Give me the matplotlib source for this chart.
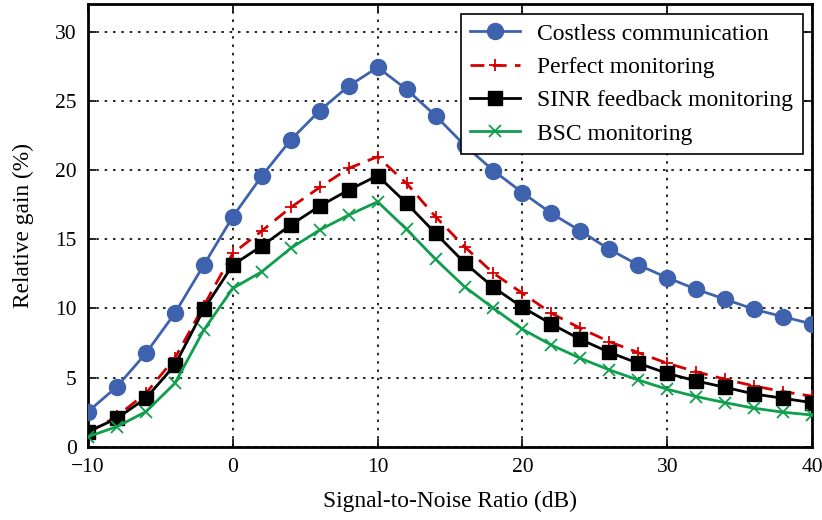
import numpy as np
import matplotlib
matplotlib.use('Agg')
from matplotlib import pyplot as plt

snr = list(range(-10, 41, 2))

costless = [2.53, 4.34, 6.75, 9.65, 13.14, 16.63, 19.57, 22.18, 24.3, 26.08,
            27.43, 25.84, 23.93, 21.8, 19.96, 18.37, 16.87, 15.6, 14.27, 13.14,
            12.22, 11.38, 10.66, 9.93, 9.4, 8.87]
perfect = [1.0, 2.2, 3.86, 6.4, 10.2, 13.98, 15.6, 17.3, 18.75, 20.13,
           20.97, 19.04, 16.63, 14.46, 12.54, 11.09, 9.65, 8.56, 7.59, 6.8,
           6.03, 5.42, 4.87, 4.39, 3.98, 3.65]
sinr = [1.08, 2.05, 3.5, 5.9, 9.93, 13.14, 14.51, 16.03, 17.4, 18.56,
        19.6, 17.6, 15.43, 13.3, 11.52, 10.08, 8.87, 7.76, 6.82, 6.03,
        5.3, 4.75, 4.29, 3.81, 3.5, 3.18]
bsc = [0.72, 1.45, 2.53, 4.58, 8.44, 11.45, 12.65, 14.35, 15.67, 16.75,
       17.71, 15.72, 13.55, 11.57, 10.01, 8.49, 7.35, 6.39, 5.55, 4.82,
       4.15, 3.62, 3.18, 2.78, 2.49, 2.29]

labels = ['Costless communication', 'Perfect monitoring',
          'SINR feedback monitoring', 'BSC monitoring']

plt.rcParams['font.family'] = ['Liberation Serif', 'DejaVu Serif']
plt.rcParams['mathtext.fontset'] = 'stix'

fig = plt.figure(figsize=(8.22, 5.2), dpi=100)
ax = fig.add_axes([0.107, 0.141, 0.881, 0.851])

ax.plot(snr, costless, color='#3F62AE', lw=2.0, marker='o', ms=11.5,
        label=labels[0], zorder=3)
ax.plot(snr, perfect, color='#D40000', lw=2.0, ls=(0, (5, 3)), marker='+',
        ms=9, mew=1.3, label=labels[1], zorder=3)
ax.plot(snr, sinr, color='black', lw=2.0, marker='s', ms=10.5,
        label=labels[2], zorder=3)
ax.plot(snr, bsc, color='#0E9F4C', lw=2.0, marker='x', ms=8.5, mew=1.3,
        label=labels[3], zorder=3)

ax.set_xlim(-10, 40)
ax.set_ylim(0, 32)
ax.set_xticks([-10, 0, 10, 20, 30, 40])
ax.set_yticks([0, 5, 10, 15, 20, 25, 30])
ax.set_xticklabels(['\u221210', '0', '10', '20', '30', '40'])
ax.tick_params(direction='in', length=6, width=1.2, top=True, right=True,
               labelsize=15.5, pad=8)
ax.grid(True, color='black', ls=(0, (1.5, 3.5)), lw=1.2)
for s in ax.spines.values():
    s.set_linewidth(2.0)

ax.set_xlabel('Signal-to-Noise Ratio (dB)', fontsize=16.8, labelpad=10)
ax.set_ylabel('Relative gain (%)', fontsize=16.8, labelpad=15)

leg = ax.legend(loc='upper right', fontsize=17, fancybox=False,
                framealpha=1, edgecolor='black', handlelength=2.1,
                handletextpad=0.75, borderaxespad=0.4, labelspacing=0.5,
                borderpad=0.4)
leg.get_frame().set_linewidth(1.2)

fname = 'out.png'
print('Writing %s' % (fname))
plt.savefig(fname)
plt.close()
